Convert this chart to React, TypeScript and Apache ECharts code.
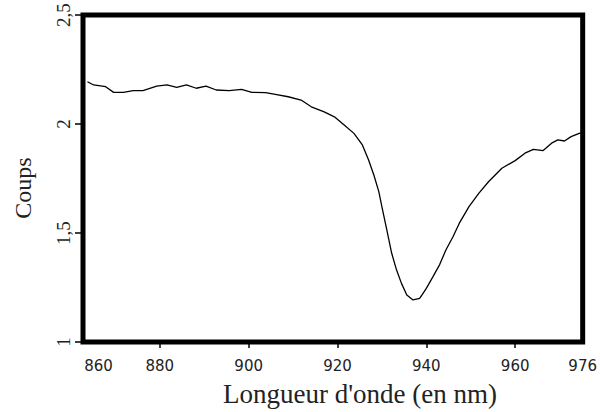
import React, { useEffect, useRef } from "react";
import * as echarts from "echarts";

const WAVELENGTH = [
  863.7, 865.1, 867.8, 869.6, 871.8, 874.0, 876.2, 879.3, 881.6, 883.8, 886.0, 888.2,
  890.4, 892.7, 895.6, 898.4, 900.7, 903.8, 906.0, 908.9, 911.8, 914.1, 917.0, 919.3,
  921.5, 923.7, 925.6, 927.0, 928.2, 929.3, 930.0, 931.1, 932.2, 933.3, 934.4, 935.6,
  937.0, 938.5, 940.0, 941.5, 943.0, 944.4, 946.0, 947.4, 949.6, 951.8, 954.0, 957.0,
  960.0, 962.2, 964.1, 966.3, 968.2, 969.6, 971.1, 972.6, 974.4, 975.2,
];
const COUNTS = [
  2.194, 2.179, 2.171, 2.145, 2.145, 2.153, 2.153, 2.174, 2.179, 2.168, 2.179, 2.164,
  2.174, 2.156, 2.153, 2.159, 2.145, 2.144, 2.136, 2.125, 2.11, 2.079, 2.056, 2.033,
  1.995, 1.957, 1.904, 1.835, 1.765, 1.69, 1.62, 1.514, 1.407, 1.33, 1.269, 1.216,
  1.193, 1.2, 1.246, 1.3, 1.355, 1.422, 1.483, 1.544, 1.621, 1.682, 1.735, 1.797,
  1.832, 1.866, 1.884, 1.878, 1.912, 1.927, 1.922, 1.942, 1.957, 1.96,
];

const X_MIN = 862.7;
const X_MAX = 975.2;
const X_LABEL_POS = [866.2, 880, 900, 920, 940, 960, 975.2];
const X_LABELS = ["860", "880", "900", "920", "940", "960", "976"];
const X_TICK_POS = [880, 900, 920, 940, 960];
const Y_MIN = 1;
const Y_MAX = 2.5;
const Y_INTERVAL = 0.5;

const X_TITLE = "Longueur d'onde (en nm)";
const Y_TITLE = "Coups";

export default function App() {
  const ref = useRef<HTMLDivElement>(null);
  useEffect(() => {
    if (!ref.current) return;
    const chart = echarts.init(ref.current, null, { renderer: "svg" });
    const data = WAVELENGTH.map((x, i) => [x, COUNTS[i]]);
    chart.setOption({
      animation: false,
      backgroundColor: "#fff",
      grid: {
        left: 83,
        top: 15,
        right: 11.5,
        bottom: 70,
        show: true,
        borderColor: "#000",
        borderWidth: 5,
        backgroundColor: "transparent",
      },
      xAxis: {
        type: "value",
        min: X_MIN,
        max: X_MAX,
        axisLine: { show: false },
        splitLine: { show: false },
        axisTick: {
          show: true,
          customValues: X_TICK_POS,
          length: 6,
          inside: false,
          lineStyle: { color: "#000", width: 1.5 },
        },
        axisLabel: {
          customValues: X_LABEL_POS,
          margin: 16,
          color: "#222",
          fontFamily: "DejaVu Sans",
          fontSize: 15,
          formatter: (v: number) => {
            let best = 0;
            for (let i = 1; i < X_LABEL_POS.length; i++) {
              if (Math.abs(X_LABEL_POS[i] - v) < Math.abs(X_LABEL_POS[best] - v)) best = i;
            }
            return X_LABELS[best];
          },
        },
      },
      yAxis: {
        type: "value",
        min: Y_MIN,
        max: Y_MAX,
        interval: Y_INTERVAL,
        axisLine: { show: false },
        splitLine: { show: false },
        axisTick: {
          show: true,
          length: 8,
          lineStyle: { color: "#000", width: 1.5 },
        },
        axisLabel: {
          rotate: 90,
          margin: 10,
          color: "#222",
          fontFamily: "Liberation Serif",
          fontSize: 19,
          formatter: (v: number) => String(v).replace(".", ","),
        },
      },
      graphic: [
        {
          type: "text",
          x: 360,
          y: 394,
          style: {
            text: X_TITLE,
            font: '27px "Liberation Serif"',
            fill: "#222",
            textAlign: "center",
            textVerticalAlign: "middle",
          },
        },
        {
          type: "text",
          x: 23,
          y: 188,
          rotation: Math.PI / 2,
          style: {
            text: Y_TITLE,
            font: '24px "Liberation Serif"',
            fill: "#222",
            textAlign: "center",
            textVerticalAlign: "middle",
          },
        },
      ],
      series: [
        {
          type: "line",
          data,
          symbol: "none",
          lineStyle: { color: "#000", width: 1.3 },
        },
      ],
    });
    return () => chart.dispose();
  }, []);
  return (
    <div
      ref={ref}
      style={{ width: 600, height: 412, position: "absolute", left: 0, top: 0 }}
    />
  );
}
